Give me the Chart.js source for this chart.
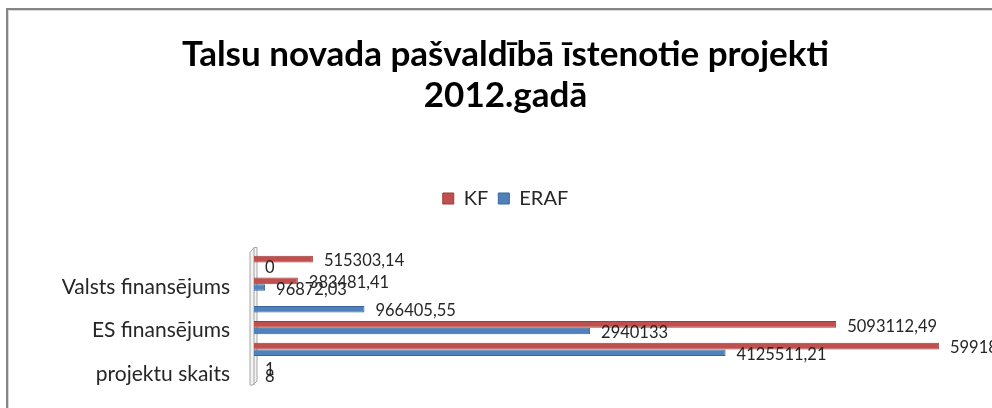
<!DOCTYPE html>
<html lang="lv">
<head>
  <meta charset="UTF-8" />
  <title>Talsu novada projekti 2012</title>
  <script src="https://cdn.jsdelivr.net/npm/chart.js"></script>
  <style>
    html,body{margin:0;padding:0;background:#fff;overflow:hidden;width:992px;height:408px}
    .frame{position:absolute;left:6px;top:8px;width:1100px;height:500px;border-left:2px solid #868686;border-top:2px solid #868686;box-shadow:inset 1px 1px 0 #d9d9d9}
    canvas{position:absolute;left:0;top:0}
  </style>
</head>
<body>
  <div class="frame"></div>
  <canvas id="projChart" width="1014" height="408"></canvas>

<script>
// kategorijas no augšas uz leju (tukšās Excel nerādīja)
const categories = ['', 'Valsts finansējums', '', 'ES finansējums', '', 'projektu skaits'];
const kfValues   = [515303.14, 383481.41, null, 5093112.49, 5991897.05, 1];
const erafValues = [0, 96872.03, 966405.55, 2940133, 4125511.21, 8];
const titleLines = ['Talsu novada pašvaldībā īstenotie projekti', '2012.gadā'];

const fmt = v => String(v).replace('.', ',');

// plāna 3D siena pie vertikālās ass
const wallPlugin = {
  id: 'wall',
  beforeDatasetsDraw(chart){
    const a = chart.chartArea, ctx = chart.ctx, L = a.left;
    ctx.save();
    ctx.beginPath();
    ctx.moveTo(L-4, a.top+1);
    ctx.lineTo(L, a.top-4);
    ctx.lineTo(L+3, a.top-4);
    ctx.lineTo(L+3, a.bottom-1);
    ctx.lineTo(L-1, a.bottom+3);
    ctx.lineTo(L-4, a.bottom+3);
    ctx.closePath();
    ctx.fillStyle = '#f3f3f3';
    ctx.fill();
    ctx.strokeStyle = '#a6a6a6';
    ctx.lineWidth = 1;
    ctx.stroke();
    ctx.beginPath();
    ctx.moveTo(L, a.top-4); ctx.lineTo(L, a.bottom+3);
    ctx.stroke();
    ctx.restore();
  }
};

// vērtību etiķetes pie stabiņu galiem
const valueLabels = {
  id: 'valueLabels',
  afterDatasetsDraw(chart){
    const ctx = chart.ctx;
    ctx.save();
    ctx.font = '16.5px Lato, sans-serif';
    ctx.fillStyle = '#262626';
    ctx.textBaseline = 'middle';
    ctx.textAlign = 'left';
    chart.data.datasets.forEach((ds, i) => {
      chart.getDatasetMeta(i).data.forEach((el, j) => {
        const v = ds.data[j];
        if (v === null || v === undefined) return;
        ctx.fillText(fmt(v), el.x + 11, el.y + 2);
      });
    });
    ctx.restore();
  }
};

new Chart(document.getElementById('projChart'), {
  type: 'bar',
  data: {
    labels: categories,
    datasets: [
      {label: 'KF', data: kfValues, backgroundColor: '#c0504d', borderColor: '#9e3b38', borderWidth: 1},
      {label: 'ERAF', data: erafValues, backgroundColor: '#4f81bd', borderColor: '#3a6596', borderWidth: 1}
    ]
  },
  options: {
    indexAxis: 'y',
    responsive: false,
    animation: false,
    layout: {padding: {left: 14, right: 17, top: 0, bottom: 26}},
    datasets: {bar: {categoryPercentage: 0.6, barPercentage: 1}},
    scales: {
      x: {
        position: 'top', min: 0, max: 6500000,
        grid: {display: false}, border: {display: false},
        ticks: {display: false},
        afterFit(s){ s.height = 33; }
      },
      y: {
        grid: {display: false, drawTicks: true, tickLength: 24}, border: {display: false},
        ticks: {autoSkip: false, padding: 0, labelOffset: 3, color: '#262626', font: {family: 'Lato, sans-serif', size: 21}},
        afterFit(s){ s.width = 240; }
      }
    },
    plugins: {
      title: {
        display: true, text: titleLines, color: '#000',
        font: {family: 'Lato, sans-serif', size: 35, weight: 'bold', lineHeight: 1.15},
        padding: {top: 35, bottom: 63}
      },
      legend: {
        display: true,
        labels: {color: '#262626', boxWidth: 11, boxHeight: 11, padding: 10, font: {family: 'Lato, sans-serif', size: 20}}
      },
      tooltip: {enabled: false}
    }
  },
  plugins: [wallPlugin, valueLabels]
});
</script>
</body>
</html>
